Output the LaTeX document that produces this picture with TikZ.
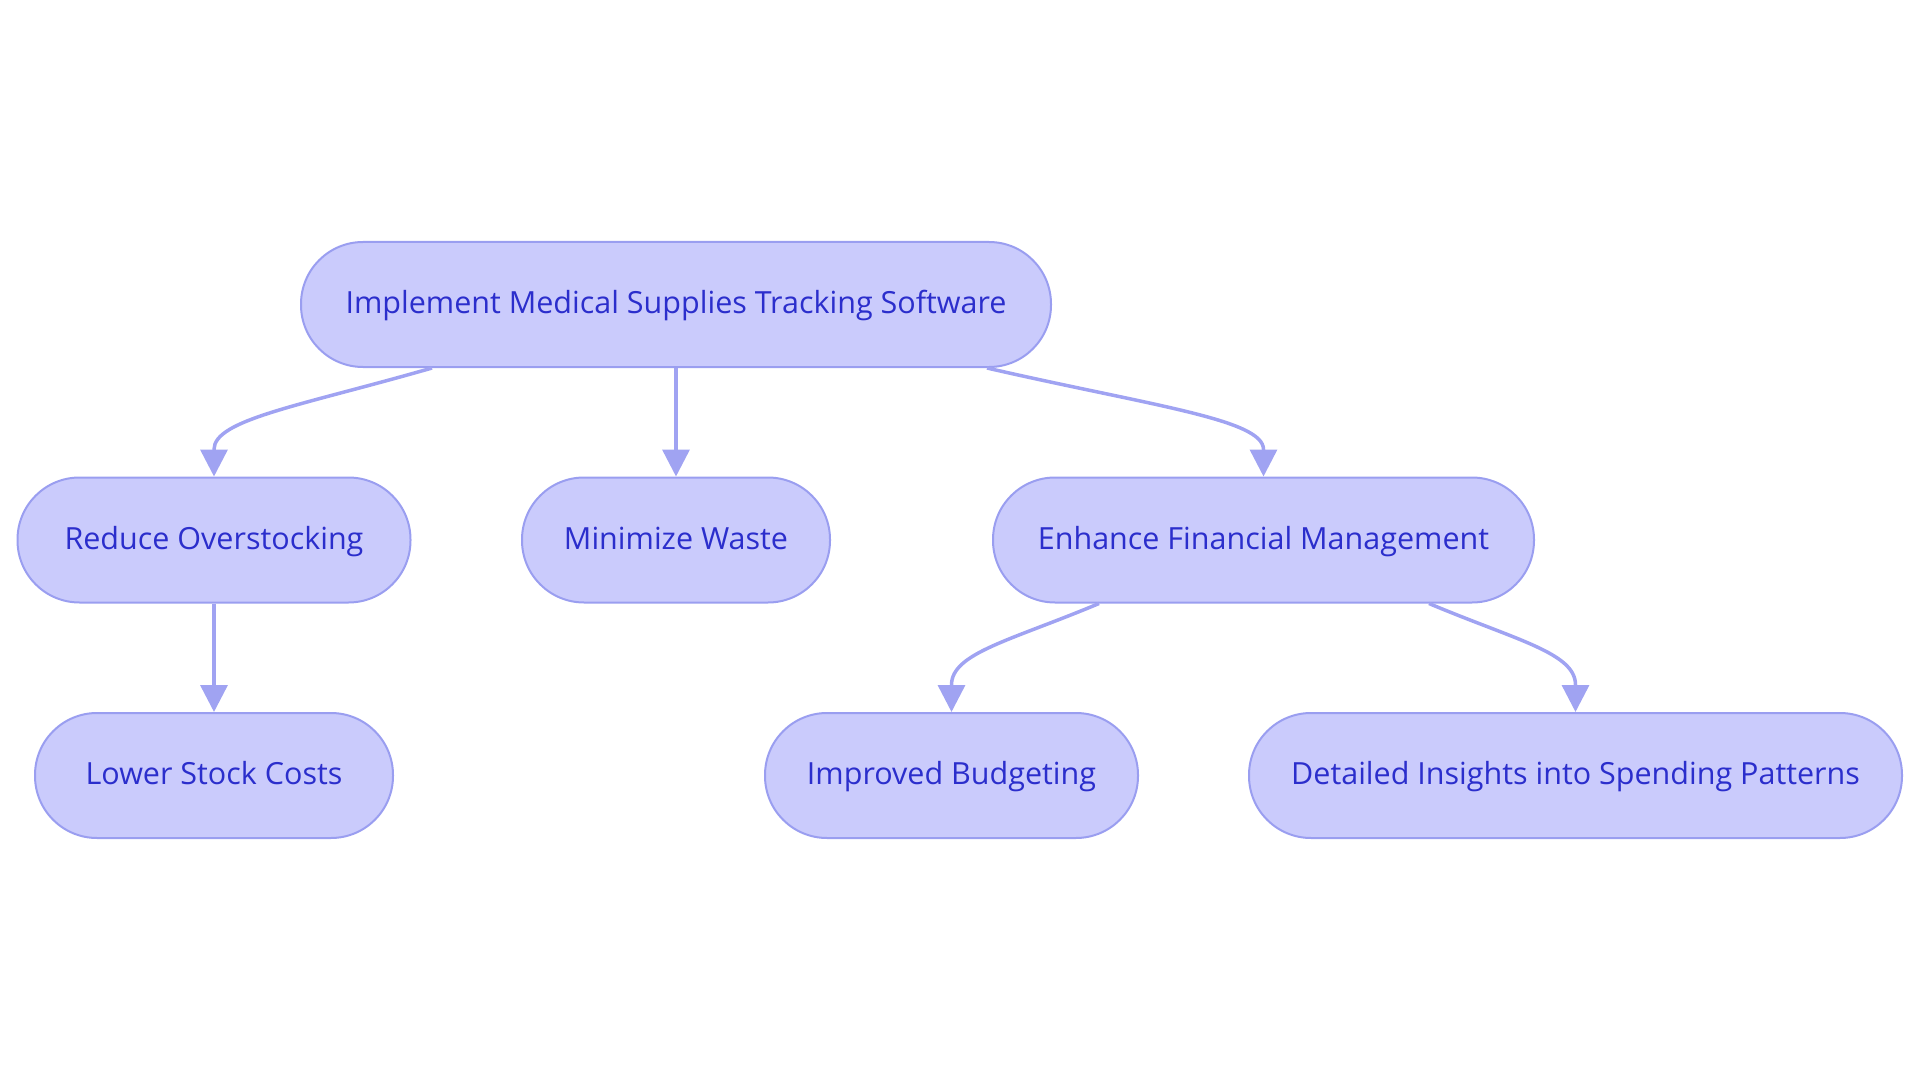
\documentclass[tikz,border=0pt]{standalone}
\usepackage{fontspec}
\setmainfont{Open Sans}
\usetikzlibrary{arrows.meta}
\definecolor{nodefill}{RGB}{202,203,252}
\definecolor{nodeline}{RGB}{154,158,240}
\definecolor{edgecol}{RGB}{160,163,242}
\definecolor{txtcol}{RGB}{43,46,204}
\tikzset{
  box/.style={draw=nodeline, line width=2pt, fill=nodefill, rounded corners=62pt,
    minimum height=125pt, inner sep=0pt, text=txtcol,
    text height=24.4pt, text depth=5.8pt,
    font=\fontsize{30.5}{36}\selectfont},
  edge/.style={draw=edgecol, line width=3.5pt,
    -{Triangle[length=27pt,width=27pt]}}
}
\begin{document}
\begin{tikzpicture}[x=1pt,y=-1pt]
\useasboundingbox (0,0) rectangle (1920,1083);
\node[box, minimum width=750pt] (top) at (676,304.5) {Implement Medical Supplies Tracking Software};
\node[box, minimum width=393pt] (reduce) at (214,540) {Reduce Overstocking};
\node[box, minimum width=308pt] (minimize) at (676,540) {Minimize Waste};
\node[box, minimum width=541pt] (enhance) at (1263.5,540) {Enhance Financial Management};
\node[box, minimum width=358pt] (lower) at (214,775.5) {Lower Stock Costs};
\node[box, minimum width=373pt] (improved) at (951.5,775.5) {Improved Budgeting};
\node[box, minimum width=653pt] (detailed) at (1575.5,775.5) {Detailed Insights into Spending Patterns};

\draw[edge] ([xshift=-244pt]top.south) .. controls +(-132,38) and +(0,-30) .. ([yshift=27pt]reduce.north) -- (reduce.north);
\draw[edge] (top.south) -- (minimize.north);
\draw[edge] ([xshift=311pt]top.south) .. controls +(166,38) and +(0,-30) .. ([yshift=27pt]enhance.north) -- (enhance.north);
\draw[edge] (reduce.south) -- (lower.north);
\draw[edge] ([xshift=-164.5pt]enhance.south) .. controls +(-88,37) and +(0,-32) .. ([yshift=27pt]improved.north) -- (improved.north);
\draw[edge] ([xshift=165.5pt]enhance.south) .. controls +(88,37) and +(0,-32) .. ([yshift=27pt]detailed.north) -- (detailed.north);
\end{tikzpicture}
\end{document}
